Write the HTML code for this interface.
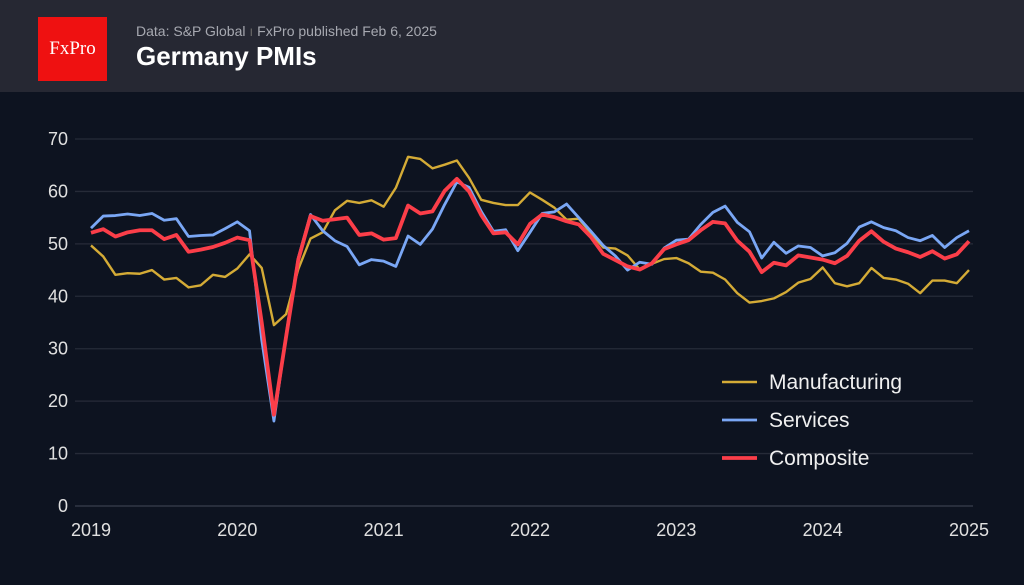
<!DOCTYPE html>
<html><head><meta charset="utf-8"><style>
body{margin:0;width:1024px;height:585px;background:#0d1320;overflow:hidden;font-family:"Liberation Sans",sans-serif}
#hdr{position:absolute;left:0;top:0;width:1024px;height:92px;background:#262833}
#logo{position:absolute;left:38px;top:17px;width:69px;height:64px;background:#ef1111;color:#fff;font-family:"Liberation Serif",serif;font-size:19px;line-height:64px;text-align:center}
#sub{position:absolute;left:136px;top:23px;color:#a7a9b1;font-size:14px}
#ttl{position:absolute;left:136px;top:41px;color:#fff;font-size:26px;font-weight:bold}
svg{position:absolute;left:0;top:0}
</style></head><body>
<div id="hdr">
<div id="logo">FxPro</div>
<div id="sub">Data: S&amp;P Global <span style="color:#666">ı</span> FxPro published Feb 6, 2025</div>
<div id="ttl">Germany PMIs</div>
</div>
<svg id="c" width="1024" height="585"></svg>
<script>
const yTicks=[0,10,20,30,40,50,60,70];
const xYears=[2019,2020,2021,2022,2023,2024,2025];
const manufacturing=[49.7,47.6,44.1,44.4,44.3,45.0,43.2,43.5,41.7,42.1,44.1,43.7,45.3,48.0,45.4,34.5,36.6,45.2,51.0,52.2,56.4,58.2,57.8,58.3,57.1,60.7,66.6,66.2,64.4,65.1,65.9,62.6,58.4,57.8,57.4,57.4,59.8,58.4,56.9,54.6,54.8,52.0,49.3,49.1,47.8,45.1,46.2,47.1,47.3,46.3,44.7,44.5,43.2,40.6,38.8,39.1,39.6,40.8,42.6,43.3,45.5,42.5,41.9,42.5,45.4,43.5,43.2,42.4,40.6,43.0,43.0,42.5,45.0];
const services=[53.0,55.3,55.4,55.7,55.4,55.8,54.5,54.8,51.4,51.6,51.7,52.9,54.2,52.5,31.7,16.2,32.6,47.3,55.6,52.5,50.6,49.5,46.0,47.0,46.7,45.7,51.5,49.9,52.8,57.5,61.8,60.8,56.2,52.4,52.7,48.7,52.2,55.8,56.1,57.6,55.0,52.4,49.7,47.7,45.0,46.5,46.1,49.2,50.7,50.9,53.7,56.0,57.2,54.1,52.3,47.3,50.3,48.2,49.6,49.3,47.7,48.3,50.1,53.2,54.2,53.1,52.5,51.2,50.6,51.6,49.3,51.2,52.5];
const composite=[52.1,52.8,51.4,52.2,52.6,52.6,50.9,51.7,48.5,48.9,49.4,50.2,51.2,50.7,35.0,17.4,32.3,47.0,55.3,54.4,54.7,55.0,51.7,52.0,50.8,51.1,57.3,55.8,56.2,60.1,62.4,60.0,55.5,52.0,52.2,49.9,53.8,55.6,55.1,54.3,53.7,51.3,48.1,46.9,45.7,45.1,46.3,49.0,49.9,50.7,52.6,54.2,53.9,50.6,48.5,44.6,46.4,45.9,47.8,47.4,47.0,46.3,47.7,50.6,52.4,50.4,49.1,48.4,47.5,48.6,47.2,48.0,50.5];
const svg=document.getElementById('c');const NS='http://www.w3.org/2000/svg';
const X0=91,X1=969,Y0=506,Y70=139;
const xm=i=>X0+(X1-X0)*i/72;
const yv=v=>Y0+(Y70-Y0)*v/70;
function mk(t,a){const e=document.createElementNS(NS,t);for(const k in a)e.setAttribute(k,a[k]);svg.appendChild(e);return e;}
yTicks.forEach(v=>{
 const l=mk('line',{x1:75,x2:973,y1:yv(v),y2:yv(v),stroke:v===0?'#3a3f4c':'#262b38','stroke-width':1.3});
 
 
 const t=mk('text',{x:68,y:yv(v)+6,'text-anchor':'end',fill:'#e0e0e0','font-size':18,'font-family':'Liberation Sans, sans-serif'});t.textContent=v;
 
 
});
xYears.forEach((y,i)=>{
 const t=mk('text',{x:xm(i*12),y:536,'text-anchor':'middle',fill:'#e0e0e0','font-size':18,'font-family':'Liberation Sans, sans-serif'});t.textContent=y;
 
 
});
function series(d,c,w,n){
 const p=mk('polyline',{points:d.map((v,i)=>xm(i)+','+yv(v)).join(' '),fill:'none',stroke:c,'stroke-width':w,'stroke-linejoin':'round'});
 
 
}
series(manufacturing,'#d4ab36',2.4,'manufacturing-line');
series(services,'#7aa7f5',2.8,'services-line');
series(composite,'#fb3e49',3.8,'composite-line');
[['Manufacturing','#d4ab36',2.4,382],['Services','#7aa7f5',2.8,420],['Composite','#fb3e49',3.8,458]].forEach(([n,c,w,y])=>{
 const l=mk('line',{x1:722,x2:757,y1:y,y2:y,stroke:c,'stroke-width':w});
 
 
 const t=mk('text',{x:769,y:y+7,fill:'#f0f0f0','font-size':21,'font-family':'Liberation Sans, sans-serif'});t.textContent=n;
 
 
});
</script>
</body></html>
